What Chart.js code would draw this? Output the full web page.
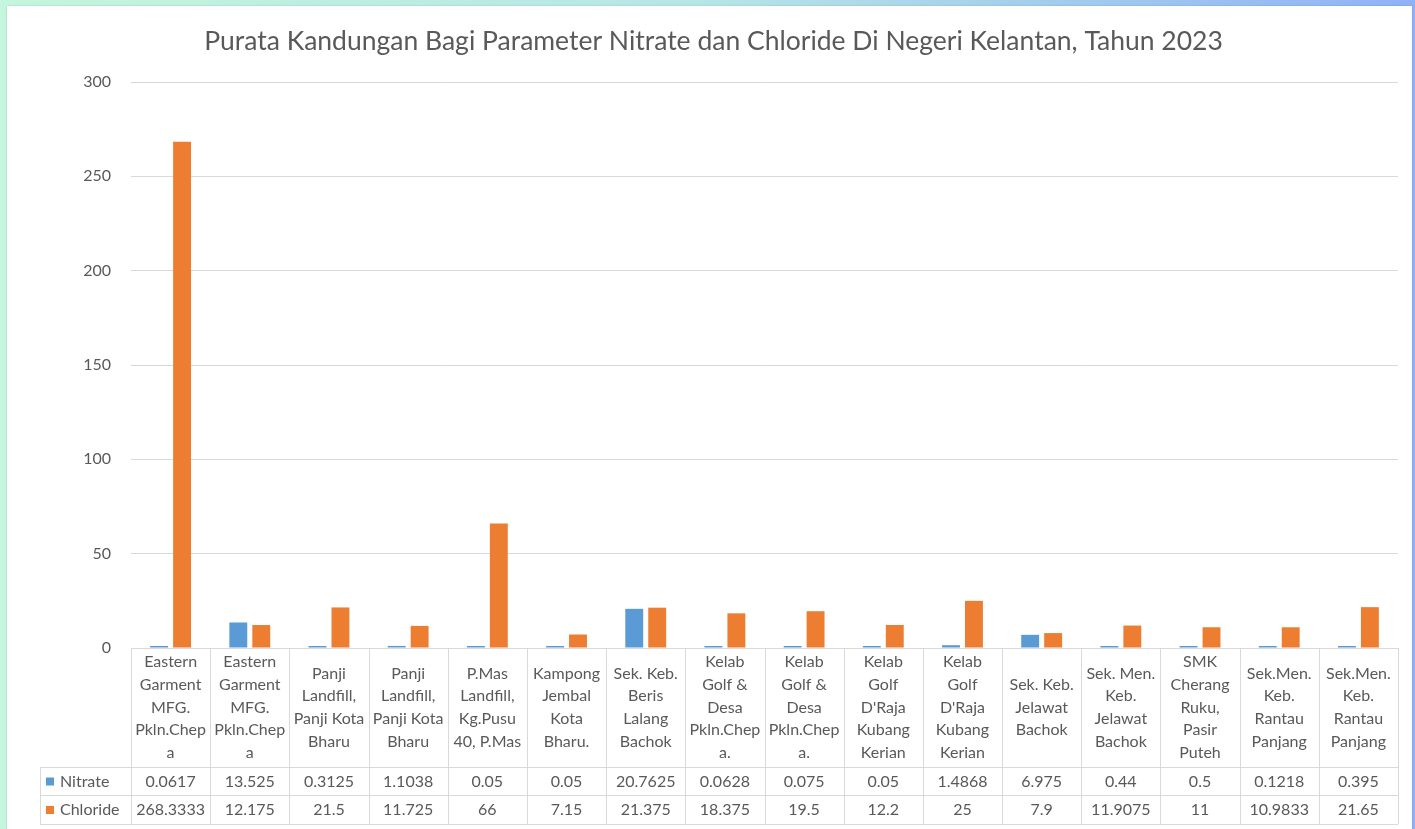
<!DOCTYPE html>
<html>
<head>
<meta charset="utf-8">
<script src="https://cdn.jsdelivr.net/npm/chart.js@4.4.0/dist/chart.umd.min.js"></script>
<style>
    html, body { margin: 0; padding: 0; }
    body {
        width: 1415px; height: 829px; overflow: hidden; position: relative;
        background: linear-gradient(90deg, #c3f6dc 0%, #b5e6e6 50%, #8fb2f6 100%);
    }
    #card {
        position: absolute; left: 7px; top: 6px; width: 1405px; height: 830px;
        background: #fff; box-shadow: 0 0 2px rgba(0,0,0,0.15);
    }
    #wrap { position: absolute; left: 0; top: 0; width: 1415px; height: 829px; }
</style>
</head>
<body>
<div id="card"></div>
<div id="wrap"><canvas id="myChart" width="1415" height="829"></canvas></div>
<script>
const titulo = 'Purata Kandungan Bagi Parameter Nitrate dan Chloride Di Negeri Kelantan, Tahun 2023'

// etiquetas de categoria, ya partidas en lineas como en la tabla
const lokasi = [
    ['Eastern', 'Garment', 'MFG.', 'Pkln.Chep', 'a'],
    ['Eastern', 'Garment', 'MFG.', 'Pkln.Chep', 'a'],
    ['Panji', 'Landfill,', 'Panji Kota', 'Bharu'],
    ['Panji', 'Landfill,', 'Panji Kota', 'Bharu'],
    ['P.Mas', 'Landfill,', 'Kg.Pusu', '40, P.Mas'],
    ['Kampong', 'Jembal', 'Kota', 'Bharu.'],
    ['Sek. Keb.', 'Beris', 'Lalang', 'Bachok'],
    ['Kelab', 'Golf &', 'Desa', 'Pkln.Chep', 'a.'],
    ['Kelab', 'Golf &', 'Desa', 'Pkln.Chep', 'a.'],
    ['Kelab', 'Golf', "D'Raja", 'Kubang', 'Kerian'],
    ['Kelab', 'Golf', "D'Raja", 'Kubang', 'Kerian'],
    ['Sek. Keb.', 'Jelawat', 'Bachok'],
    ['Sek. Men.', 'Keb.', 'Jelawat', 'Bachok'],
    ['SMK', 'Cherang', 'Ruku,', 'Pasir', 'Puteh'],
    ['Sek.Men.', 'Keb.', 'Rantau', 'Panjang'],
    ['Sek.Men.', 'Keb.', 'Rantau', 'Panjang']
]

// valores tal como aparecen en la tabla
const nitrateTxt = ['0.0617', '13.525', '0.3125', '1.1038', '0.05', '0.05', '20.7625', '0.0628', '0.075', '0.05', '1.4868', '6.975', '0.44', '0.5', '0.1218', '0.395']
const chlorideTxt = ['268.3333', '12.175', '21.5', '11.725', '66', '7.15', '21.375', '18.375', '19.5', '12.2', '25', '7.9', '11.9075', '11', '10.9833', '21.65']
const nitrate = nitrateTxt.map(Number)
const chloride = chlorideTxt.map(Number)

const yTicks = [0, 50, 100, 150, 200, 250, 300]

const gris = '#595959'
const linea = '#d9d9d9'
const fuente = 'Lato, "Liberation Sans", sans-serif'

const tablaPlugin = {
    id: 'tablaDatos',
    afterDraw(chart) {
        const { ctx, chartArea, scales } = chart
        const x = scales.x
        const n = lokasi.length
        const paso = (chartArea.right - chartArea.left) / n
        const top = chartArea.bottom
        const fila1 = top + 119
        const fila2 = fila1 + 28
        const fondo = fila2 + 29
        const izq = 40

        ctx.save()
        // titulo
        ctx.fillStyle = gris
        ctx.font = '26.5px ' + fuente
        ctx.textAlign = 'center'
        ctx.textBaseline = 'middle'
        ctx.fillText(titulo, chart.width / 2 + 6, 41)

        // lineas de la tabla
        ctx.strokeStyle = linea
        ctx.lineWidth = 1
        ctx.beginPath()
        ctx.moveTo(chartArea.left, top + 0.5)
        ctx.lineTo(chartArea.right, top + 0.5)
        for (const yy of [fila1, fila2, fondo]) {
            ctx.moveTo(izq, yy + 0.5)
            ctx.lineTo(chartArea.right, yy + 0.5)
        }
        ctx.moveTo(izq + 0.5, fila1)
        ctx.lineTo(izq + 0.5, fondo)
        for (let i = 0; i <= n; i++) {
            const xx = Math.round(chartArea.left + i * paso) + 0.5
            ctx.moveTo(xx, top)
            ctx.lineTo(xx, fondo)
        }
        ctx.stroke()

        // textos
        ctx.font = '16px ' + fuente
        ctx.fillStyle = gris
        const alto = 22.6
        lokasi.forEach((lineas, i) => {
            const cx = x.getPixelForValue(i)
            const y0 = top + (fila1 - top) / 2 - (lineas.length - 1) * alto / 2
            lineas.forEach((t, k) => ctx.fillText(t, cx, y0 + k * alto))
            ctx.fillText(nitrateTxt[i], cx, fila1 + 14.5)
            ctx.fillText(chlorideTxt[i], cx, fila2 + 15)
        })

        // leyenda en la tabla
        const series = chart.data.datasets
        const filas = [fila1 + 14.5, fila2 + 15]
        ctx.textAlign = 'left'
        series.forEach((ds, k) => {
            ctx.fillStyle = ds.backgroundColor
            ctx.fillRect(46, filas[k] - 4, 8, 8)
            ctx.fillStyle = gris
            ctx.fillText(ds.label, 60, filas[k])
        })
        ctx.restore()
    }
}

const myChart = document.getElementById('myChart')

new Chart(myChart, {
    type: 'bar',
    data: {
        labels: lokasi,
        datasets: [{
            label: 'Nitrate',
            data: nitrate,
            backgroundColor: '#5b9bd5',
            categoryPercentage: 0.58,
            barPercentage: 0.78,
            minBarLength: 2
        }, {
            label: 'Chloride',
            data: chloride,
            backgroundColor: '#ed7d31',
            categoryPercentage: 0.58,
            barPercentage: 0.78
        }]
    },
    plugins: [tablaPlugin],
    options: {
        responsive: false,
        animation: false,
        devicePixelRatio: 1,
        layout: { padding: { left: 40, top: 82, right: 17, bottom: 181 } },
        plugins: {
            legend: { display: false },
            tooltip: { enabled: false },
            title: { display: false }
        },
        scales: {
            x: {
                ticks: { display: false },
                grid: { display: false },
                border: { display: false },
                afterFit: (s) => { s.height = 0 }
            },
            y: {
                min: 0,
                max: 300,
                afterBuildTicks: (s) => { s.ticks = yTicks.map(v => ({ value: v })) },
                afterFit: (s) => { s.width = 91 },
                ticks: { color: gris, font: { size: 16, family: fuente }, padding: 20 },
                grid: { color: linea, drawTicks: false },
                border: { display: false }
            }
        }
    }
})
</script>
</body>
</html>
